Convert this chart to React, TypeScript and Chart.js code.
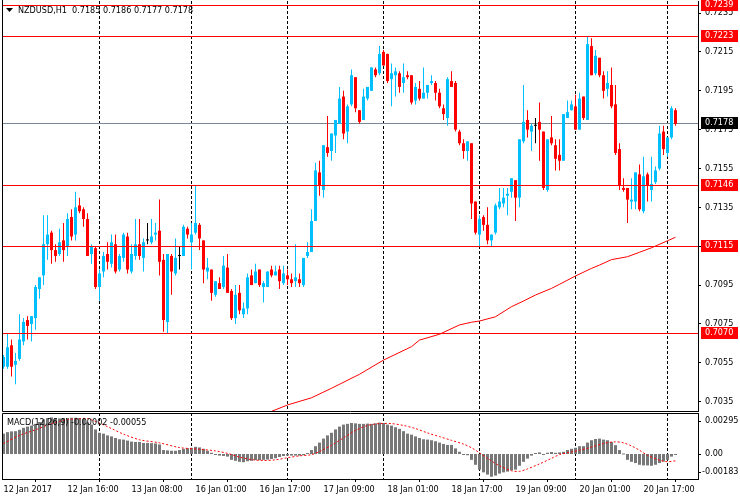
import { useEffect, useRef } from 'react';
import { Chart, registerables } from 'chart.js';

Chart.register(...registerables);

const FONT = '"DejaVu Sans Condensed", "Liberation Sans", Arial, sans-serif';
const BULL = '#00BFFF';
const BEAR = '#FF0000';
const DOJI = '#000000';

const symbolTitle = 'NZDUSD,H1  0.7185 0.7186 0.7177 0.7178';
const macdTitle = 'MACD(12,26,9) -0.00002 -0.00055';

const opens = [
  0.7053, 0.7053, 0.7064, 0.7054, 0.7057, 0.7066, 0.7077, 0.7075, 0.7078, 0.7093,
  0.7100, 0.7116, 0.7122, 0.7113, 0.7111, 0.7118, 0.7115, 0.7130, 0.7121, 0.7136,
  0.7134, 0.7129, 0.7111, 0.7114, 0.7094, 0.7102, 0.7111, 0.7106, 0.7116, 0.7103,
  0.7109, 0.7120, 0.7102, 0.7110, 0.7116, 0.7109, 0.7118, 0.7117, 0.7121, 0.7123,
  0.7108, 0.7076, 0.7110, 0.7101, 0.7110, 0.7110, 0.7124, 0.7117, 0.7122, 0.7126,
  0.7118, 0.7102, 0.7103, 0.7090, 0.7096, 0.7094, 0.7104, 0.7092, 0.7078, 0.7091,
  0.7080, 0.7083, 0.7100, 0.7096, 0.7103, 0.7094, 0.7094, 0.7103, 0.7100, 0.7103,
  0.7096, 0.7100, 0.7098, 0.7097, 0.7098, 0.7095, 0.7110, 0.7112, 0.7128, 0.7153,
  0.7144, 0.7166, 0.7164, 0.7172, 0.7178, 0.7192, 0.7174, 0.7188, 0.7202, 0.7185,
  0.7180, 0.7191, 0.7195, 0.7206, 0.7204, 0.7215, 0.7214, 0.7201, 0.7203, 0.7204,
  0.7199, 0.7203, 0.7203, 0.7190, 0.7196, 0.7191, 0.7194, 0.7199, 0.7199, 0.7194,
  0.7186, 0.7181, 0.7200, 0.7199, 0.7174, 0.7168, 0.7164, 0.7168, 0.7138, 0.7121,
  0.7130, 0.7126, 0.7118, 0.7122, 0.7135, 0.7137, 0.7141, 0.7143, 0.7149, 0.7140,
  0.7169, 0.7180, 0.7174, 0.7177, 0.7179, 0.7174, 0.7144, 0.7171, 0.7167, 0.7162,
  0.7159, 0.7181, 0.7185, 0.7187, 0.7175, 0.7192, 0.7180, 0.7218, 0.7204, 0.7212,
  0.7203, 0.7196, 0.7198, 0.7188, 0.7165, 0.7145, 0.7145, 0.7138, 0.7138, 0.7152,
  0.7133, 0.7152, 0.7144, 0.7148, 0.7155, 0.7174, 0.7163, 0.7171, 0.7185,
];

const highs = [
  0.7059, 0.7070, 0.7067, 0.7060, 0.7080, 0.7078, 0.7079, 0.7079, 0.7095, 0.7099,
  0.7131, 0.7131, 0.7123, 0.7116, 0.7124, 0.7127, 0.7132, 0.7134, 0.7143, 0.7140,
  0.7135, 0.7132, 0.7116, 0.7115, 0.7103, 0.7112, 0.7117, 0.7121, 0.7121, 0.7111,
  0.7122, 0.7122, 0.7116, 0.7129, 0.7129, 0.7119, 0.7127, 0.7129, 0.7127, 0.7139,
  0.7111, 0.7111, 0.7111, 0.7119, 0.7115, 0.7126, 0.7125, 0.7127, 0.7146, 0.7127,
  0.7118, 0.7109, 0.7103, 0.7097, 0.7099, 0.7110, 0.7111, 0.7093, 0.7095, 0.7095,
  0.7086, 0.7101, 0.7103, 0.7106, 0.7103, 0.7097, 0.7102, 0.7105, 0.7105, 0.7105,
  0.7105, 0.7103, 0.7101, 0.7116, 0.7101, 0.7109, 0.7117, 0.7134, 0.7158, 0.7159,
  0.7167, 0.7182, 0.7173, 0.7180, 0.7197, 0.7195, 0.7188, 0.7206, 0.7202, 0.7185,
  0.7196, 0.7197, 0.7207, 0.7207, 0.7218, 0.7216, 0.7214, 0.7209, 0.7207, 0.7205,
  0.7209, 0.7205, 0.7203, 0.7199, 0.7200, 0.7207, 0.7198, 0.7203, 0.7200, 0.7196,
  0.7188, 0.7202, 0.7205, 0.7200, 0.7175, 0.7170, 0.7169, 0.7168, 0.7138, 0.7131,
  0.7131, 0.7135, 0.7121, 0.7137, 0.7145, 0.7145, 0.7145, 0.7150, 0.7149, 0.7170,
  0.7198, 0.7185, 0.7178, 0.7181, 0.7189, 0.7174, 0.7170, 0.7182, 0.7170, 0.7170,
  0.7183, 0.7190, 0.7190, 0.7193, 0.7194, 0.7192, 0.7223, 0.7222, 0.7216, 0.7212,
  0.7205, 0.7205, 0.7207, 0.7198, 0.7168, 0.7150, 0.7145, 0.7150, 0.7153, 0.7157,
  0.7161, 0.7153, 0.7161, 0.7156, 0.7177, 0.7177, 0.7171, 0.7187, 0.7186,
];

const lows = [
  0.7052, 0.7052, 0.7048, 0.7044, 0.7056, 0.7064, 0.7067, 0.7066, 0.7072, 0.7088,
  0.7095, 0.7108, 0.7106, 0.7107, 0.7110, 0.7107, 0.7110, 0.7118, 0.7118, 0.7132,
  0.7125, 0.7110, 0.7106, 0.7093, 0.7087, 0.7099, 0.7103, 0.7104, 0.7101, 0.7102,
  0.7107, 0.7101, 0.7101, 0.7108, 0.7108, 0.7102, 0.7116, 0.7116, 0.7118, 0.7100,
  0.7071, 0.7070, 0.7090, 0.7100, 0.7103, 0.7110, 0.7119, 0.7103, 0.7121, 0.7113,
  0.7096, 0.7098, 0.7087, 0.7089, 0.7093, 0.7093, 0.7091, 0.7077, 0.7075, 0.7080,
  0.7078, 0.7080, 0.7095, 0.7096, 0.7094, 0.7086, 0.7094, 0.7099, 0.7100, 0.7093,
  0.7095, 0.7095, 0.7094, 0.7094, 0.7094, 0.7094, 0.7109, 0.7112, 0.7128, 0.7141,
  0.7140, 0.7161, 0.7159, 0.7163, 0.7178, 0.7170, 0.7168, 0.7187, 0.7184, 0.7178,
  0.7180, 0.7190, 0.7195, 0.7202, 0.7203, 0.7208, 0.7199, 0.7187, 0.7192, 0.7194,
  0.7194, 0.7201, 0.7188, 0.7188, 0.7190, 0.7191, 0.7191, 0.7198, 0.7190, 0.7186,
  0.7180, 0.7177, 0.7197, 0.7174, 0.7167, 0.7160, 0.7159, 0.7129, 0.7121, 0.7115,
  0.7123, 0.7116, 0.7115, 0.7121, 0.7134, 0.7135, 0.7131, 0.7140, 0.7128, 0.7135,
  0.7168, 0.7171, 0.7164, 0.7168, 0.7159, 0.7144, 0.7143, 0.7167, 0.7154, 0.7154,
  0.7159, 0.7181, 0.7185, 0.7175, 0.7175, 0.7180, 0.7180, 0.7203, 0.7203, 0.7202,
  0.7191, 0.7192, 0.7186, 0.7162, 0.7144, 0.7143, 0.7127, 0.7134, 0.7134, 0.7133,
  0.7132, 0.7138, 0.7138, 0.7147, 0.7154, 0.7162, 0.7161, 0.7170, 0.7177,
];

const closes = [
  0.7058, 0.7063, 0.7053, 0.7056, 0.7067, 0.7076, 0.7074, 0.7079, 0.7094, 0.7099,
  0.7116, 0.7121, 0.7113, 0.7110, 0.7117, 0.7113, 0.7129, 0.7120, 0.7135, 0.7133,
  0.7129, 0.7110, 0.7115, 0.7094, 0.7101, 0.7110, 0.7107, 0.7117, 0.7102, 0.7110,
  0.7121, 0.7103, 0.7111, 0.7116, 0.7110, 0.7117, 0.7118, 0.7120, 0.7122, 0.7107,
  0.7077, 0.7111, 0.7102, 0.7109, 0.7110, 0.7125, 0.7121, 0.7121, 0.7127, 0.7119,
  0.7103, 0.7104, 0.7091, 0.7097, 0.7093, 0.7105, 0.7091, 0.7078, 0.7090, 0.7082,
  0.7083, 0.7099, 0.7095, 0.7102, 0.7095, 0.7096, 0.7102, 0.7100, 0.7102, 0.7097,
  0.7101, 0.7098, 0.7096, 0.7099, 0.7096, 0.7109, 0.7112, 0.7128, 0.7154, 0.7146,
  0.7167, 0.7163, 0.7173, 0.7180, 0.7191, 0.7173, 0.7187, 0.7203, 0.7186, 0.7179,
  0.7192, 0.7197, 0.7207, 0.7203, 0.7214, 0.7208, 0.7200, 0.7204, 0.7205, 0.7197,
  0.7202, 0.7202, 0.7189, 0.7197, 0.7191, 0.7194, 0.7198, 0.7200, 0.7194, 0.7187,
  0.7183, 0.7201, 0.7197, 0.7175, 0.7168, 0.7164, 0.7169, 0.7137, 0.7122, 0.7129,
  0.7126, 0.7118, 0.7121, 0.7136, 0.7138, 0.7140, 0.7142, 0.7150, 0.7140, 0.7170,
  0.7179, 0.7175, 0.7177, 0.7177, 0.7175, 0.7145, 0.7170, 0.7168, 0.7160, 0.7159,
  0.7183, 0.7184, 0.7188, 0.7175, 0.7191, 0.7181, 0.7219, 0.7203, 0.7213, 0.7203,
  0.7195, 0.7199, 0.7187, 0.7163, 0.7146, 0.7144, 0.7139, 0.7139, 0.7153, 0.7134,
  0.7151, 0.7146, 0.7147, 0.7154, 0.7173, 0.7165, 0.7171, 0.7186, 0.7178,
];

const maBars = [67, 71, 77, 82, 89, 95, 102, 104, 109, 114, 117, 119, 123, 127, 130, 133, 137, 139, 143, 147, 149, 152, 156, 159, 162, 166, 168];
const maValues = [
  0.70300, 0.70333, 0.70370, 0.70419, 0.70491, 0.70564, 0.70633, 0.70667, 0.70697, 0.70745,
  0.70759, 0.70765, 0.70787, 0.70839, 0.70868, 0.70899, 0.70933, 0.70954, 0.70997, 0.71036,
  0.71053, 0.71081, 0.71096, 0.71119, 0.71142, 0.71178, 0.71196,
];

const macdMain = [
  0.00164, 0.00176, 0.00182, 0.00184, 0.00195, 0.00211, 0.00221, 0.00229, 0.00243, 0.00258,
  0.00279, 0.00290, 0.00295, 0.00290, 0.00287, 0.00290, 0.00290, 0.00292, 0.00292, 0.00290,
  0.00282, 0.00255, 0.00237, 0.00198, 0.00171, 0.00164, 0.00150, 0.00142, 0.00129, 0.00119,
  0.00116, 0.00108, 0.00100, 0.00097, 0.00097, 0.00089, 0.00089, 0.00087, 0.00085, 0.00077,
  0.00032, 0.00029, 0.00026, 0.00026, 0.00032, 0.00042, 0.00047, 0.00050, 0.00058, 0.00053,
  0.00042, 0.00026, 0.00010, -0.00002, -0.00013, -0.00016, -0.00021, -0.00047, -0.00055, -0.00063,
  -0.00066, -0.00058, -0.00055, -0.00050, -0.00050, -0.00047, -0.00045, -0.00040, -0.00034, -0.00024,
  -0.00016, -0.00013, -0.00013, -0.00013, -0.00013, -0.00010, 0.00002, 0.00032, 0.00063, 0.00092,
  0.00124, 0.00150, 0.00171, 0.00198, 0.00221, 0.00237, 0.00243, 0.00250, 0.00247, 0.00243,
  0.00243, 0.00245, 0.00243, 0.00247, 0.00253, 0.00250, 0.00237, 0.00229, 0.00216, 0.00203,
  0.00184, 0.00164, 0.00156, 0.00142, 0.00129, 0.00119, 0.00116, 0.00111, 0.00103, 0.00092,
  0.00081, 0.00073, 0.00073, 0.00045, 0.00018, -0.00002, -0.00010, -0.00047, -0.00087, -0.00126,
  -0.00148, -0.00166, -0.00183, -0.00174, -0.00158, -0.00148, -0.00142, -0.00132, -0.00126, -0.00095,
  -0.00063, -0.00037, -0.00013, 0.00006, 0.00013, -0.00002, 0.00010, 0.00016, 0.00010, 0.00013,
  0.00018, 0.00032, 0.00042, 0.00050, 0.00063, 0.00063, 0.00092, 0.00111, 0.00121, 0.00124,
  0.00116, 0.00111, 0.00097, 0.00071, 0.00032, 0.00000, -0.00047, -0.00063, -0.00073, -0.00087,
  -0.00092, -0.00092, -0.00095, -0.00087, -0.00073, -0.00061, -0.00047, -0.00021, -0.00002,
];

const signalBars = [0, 4, 8, 12, 16, 19, 21, 24, 27, 30, 34, 39, 44, 49, 53, 56, 59, 62, 65, 68, 71, 74, 77, 79, 82, 85, 88, 91, 94, 97, 100, 103, 106, 109, 112, 115, 117, 119, 121, 124, 127, 129, 131, 134, 137, 139, 141, 144, 147, 150, 153, 155, 157, 159, 161, 164, 166, 168];
const signalValues = [
  0.00085, 0.00150, 0.00195, 0.00245, 0.00278, 0.00285, 0.00285, 0.00250, 0.00205, 0.00160,
  0.00115, 0.00090, 0.00052, 0.00038, 0.00025, 0.00005, -0.00025, -0.00045, -0.00052, -0.00047,
  -0.00030, -0.00015, -0.00005, 0.00020, 0.00070, 0.00130, 0.00190, 0.00230, 0.00245, 0.00245,
  0.00230, 0.00205, 0.00170, 0.00140, 0.00110, 0.00080, 0.00050, 0.00010, -0.00035, -0.00095,
  -0.00135, -0.00140, -0.00120, -0.00080, -0.00035, -0.00005, 0.00010, 0.00030, 0.00055, 0.00085,
  0.00098, 0.00090, 0.00065, 0.00030, -0.00010, -0.00050, -0.00062, -0.00055,
];

const priceTicks = [0.7035, 0.7055, 0.7075, 0.7095, 0.7115, 0.7135, 0.7155, 0.7175, 0.7195, 0.7215, 0.7235];
const levelPrices = [0.7239, 0.7223, 0.7146, 0.7115, 0.7070];
const bidPrice = 0.7178;
const separatorBars = [24, 47, 71, 95, 119, 143, 166];
const timeTickBars = [0, 16, 32, 48, 64, 80, 96, 112, 128, 144, 160];
const timeTickLabels = [
  '12 Jan 2017', '12 Jan 16:00', '13 Jan 08:00', '16 Jan 01:00', '16 Jan 17:00', '17 Jan 09:00',
  '18 Jan 01:00', '18 Jan 17:00', '19 Jan 09:00', '20 Jan 01:00', '20 Jan 17:00',
];
const macdTickValues = [0.00295, 0, -0.00183];
const macdTickLabels = ['0.00295', '0.00', '-0.00183'];

const X_MIN = -0.375;
const X_MAX = 173.625;
const PRICE_MAX = 0.724121;
const PRICE_MIN = 0.70302;
const MACD_MAX = 0.003305;
const MACD_MIN = -0.002015;
const AXIS_W = 42;

const candleColor = (i: number) =>
  closes[i] > opens[i] ? BULL : closes[i] < opens[i] ? BEAR : DOJI;

function drawSeparators(chart: any) {
  const { ctx, chartArea: a, scales } = chart;
  ctx.save();
  ctx.strokeStyle = '#000';
  ctx.lineWidth = 1;
  ctx.setLineDash([3, 2]);
  separatorBars.forEach((b) => {
    const px = Math.floor(scales.x.getPixelForValue(b)) + 0.5;
    ctx.beginPath();
    ctx.moveTo(px, a.top);
    ctx.lineTo(px, a.bottom);
    ctx.stroke();
  });
  ctx.restore();
}

const mainDecor = {
  id: 'mainDecor',
  beforeDatasetsDraw(chart: any) {
    drawSeparators(chart);
    const { ctx, chartArea: a, scales } = chart;
    const by = Math.floor(scales.y.getPixelForValue(bidPrice)) + 0.5;
    ctx.save();
    ctx.strokeStyle = '#778899';
    ctx.lineWidth = 1;
    ctx.beginPath();
    ctx.moveTo(a.left, by);
    ctx.lineTo(a.right, by);
    ctx.stroke();
    ctx.restore();
  },
  afterDatasetsDraw(chart: any) {
    const { ctx, chartArea: a, scales } = chart;
    ctx.save();
    ctx.strokeStyle = '#FF0000';
    ctx.lineWidth = 1;
    levelPrices.forEach((v) => {
      const yy = Math.floor(scales.y.getPixelForValue(v)) + 0.5;
      ctx.beginPath();
      ctx.moveTo(a.left, yy);
      ctx.lineTo(a.right, yy);
      ctx.stroke();
    });
    ctx.restore();
  },
  afterDraw(chart: any) {
    const { ctx, chartArea: a, scales } = chart;
    ctx.save();
    ctx.strokeStyle = '#000';
    ctx.lineWidth = 1;
    ctx.beginPath();
    ctx.moveTo(a.left + 0.5, 0);
    ctx.lineTo(a.left + 0.5, a.bottom + 0.5);
    ctx.lineTo(a.right, a.bottom + 0.5);
    ctx.stroke();

    ctx.font = `9px ${FONT}`;
    ctx.textBaseline = 'middle';
    ctx.textAlign = 'left';
    const box = (v: number, fill: string) => {
      const yy = Math.floor(scales.y.getPixelForValue(v));
      ctx.fillStyle = fill;
      ctx.fillRect(a.right + 3, yy - 6, 37, 12);
      ctx.fillStyle = '#fff';
      ctx.fillText(v.toFixed(4), a.right + 7, yy);
    };
    levelPrices.forEach((v) => box(v, '#FF0000'));
    box(bidPrice, '#000000');

    ctx.fillStyle = '#000';
    ctx.beginPath();
    ctx.moveTo(6, 8);
    ctx.lineTo(13, 8);
    ctx.lineTo(9.5, 12);
    ctx.closePath();
    ctx.fill();
    ctx.fillText(symbolTitle, 18, 10.5);
    ctx.restore();
  },
};

const macdDecor = {
  id: 'macdDecor',
  beforeDatasetsDraw(chart: any) {
    drawSeparators(chart);
  },
  afterDraw(chart: any) {
    const { ctx, chartArea: a, scales } = chart;
    ctx.save();
    ctx.strokeStyle = '#000';
    ctx.lineWidth = 1;
    ctx.beginPath();
    ctx.moveTo(a.left + 0.5, a.bottom);
    ctx.lineTo(a.left + 0.5, a.top + 0.5);
    ctx.lineTo(a.right, a.top + 0.5);
    ctx.stroke();

    ctx.font = `9px ${FONT}`;
    ctx.textBaseline = 'middle';
    ctx.textAlign = 'left';
    ctx.fillStyle = '#000';
    macdTickValues.forEach((v, k) => {
      const raw = Math.round(scales.y.getPixelForValue(v));
      const yy = Math.min(Math.max(raw, a.top + 8), a.bottom - 7);
      ctx.beginPath();
      ctx.moveTo(a.right, yy + 0.5);
      ctx.lineTo(a.right + 3, yy + 0.5);
      ctx.stroke();
      const label = macdTickLabels[k];
      const shift = label.startsWith('-') ? ctx.measureText('-').width : 0;
      ctx.fillText(label, a.right + 7 - shift, yy);
    });
    ctx.fillText(macdTitle, 7, 10.5);
    ctx.restore();
  },
};

const fitY = (s: any) => {
  s.width = AXIS_W;
  s.paddingTop = 0;
  s.paddingBottom = 0;
};

export default function App() {
  const mainRef = useRef<HTMLCanvasElement>(null);
  const macdRef = useRef<HTMLCanvasElement>(null);

  useEffect(() => {
    const idx = opens.map((_, i) => i);
    const colors = idx.map(candleColor);
    const main = new Chart(mainRef.current as HTMLCanvasElement, {
      type: 'bar',
      data: {
        datasets: [
          {
            type: 'line',
            data: maBars.map((b, k) => ({ x: b, y: maValues[k] })),
            borderColor: '#FF0000',
            borderWidth: 1,
            pointRadius: 0,
            tension: 0,
            order: 0,
          } as any,
          {
            type: 'bar',
            data: idx.map((i) => ({ x: i, y: [opens[i], closes[i]] })),
            backgroundColor: colors,
            barThickness: 3,
            maxBarThickness: 3,
            minBarLength: 1,
            grouped: false,
            inflateAmount: 0,
            borderWidth: 0,
            order: 1,
          } as any,
          {
            type: 'bar',
            data: idx.map((i) => ({ x: i, y: [lows[i], highs[i]] })),
            backgroundColor: colors,
            barThickness: 1,
            maxBarThickness: 1,
            grouped: false,
            inflateAmount: 0,
            borderWidth: 0,
            order: 2,
          } as any,
        ],
      },
      options: {
        responsive: false,
        animation: false,
        devicePixelRatio: 1,
        events: [],
        layout: { padding: { left: 2, top: 1, bottom: 1, right: 0 } },
        plugins: { legend: { display: false }, tooltip: { enabled: false } },
        scales: {
          x: { type: 'linear', min: X_MIN, max: X_MAX, display: false, offset: false },
          y: {
            type: 'linear',
            position: 'right',
            min: PRICE_MIN,
            max: PRICE_MAX,
            afterFit: fitY,
            afterBuildTicks: (s: any) => { s.ticks = priceTicks.map((v) => ({ value: v })); },
            ticks: {
              callback: (v: any) => Number(v).toFixed(4),
              color: '#000',
              font: { family: FONT, size: 9 },
              padding: 4,
            },
            grid: { drawOnChartArea: false, drawTicks: true, tickLength: 3, color: '#000' },
            border: { display: true, color: '#000', width: 1 },
          },
        },
      } as any,
      plugins: [mainDecor],
    });

    const macd = new Chart(macdRef.current as HTMLCanvasElement, {
      type: 'bar',
      data: {
        datasets: [
          {
            type: 'line',
            data: signalBars.map((b, k) => ({ x: b, y: signalValues[k] })),
            borderColor: '#FF0000',
            borderWidth: 1,
            borderDash: [2, 2],
            pointRadius: 0,
            tension: 0.3,
            order: 0,
          } as any,
          {
            type: 'bar',
            data: idx.map((i) => ({ x: i, y: macdMain[i] })),
            backgroundColor: '#787878',
            barThickness: 3,
            maxBarThickness: 3,
            minBarLength: 1,
            grouped: false,
            inflateAmount: 0,
            borderWidth: 0,
            order: 1,
          } as any,
        ],
      },
      options: {
        responsive: false,
        animation: false,
        devicePixelRatio: 1,
        events: [],
        layout: { padding: { left: 2, top: 1, bottom: 0, right: 0 } },
        plugins: { legend: { display: false }, tooltip: { enabled: false } },
        scales: {
          x: {
            type: 'linear',
            position: 'bottom',
            min: X_MIN,
            max: X_MAX,
            offset: false,
            afterFit: (s: any) => { s.height = 21; s.paddingLeft = 0; s.paddingRight = 0; },
            afterBuildTicks: (s: any) => { s.ticks = timeTickBars.map((v) => ({ value: v })); },
            ticks: {
              callback: (v: any) => timeTickLabels[timeTickBars.indexOf(Number(v))] ?? '',
              align: 'start',
              maxRotation: 0,
              autoSkip: false,
              color: '#000',
              font: { family: FONT, size: 9 },
              padding: 2,
            },
            grid: { drawOnChartArea: false, drawTicks: true, tickLength: 3, color: '#000' },
            border: { display: true, color: '#000', width: 1 },
          },
          y: {
            type: 'linear',
            position: 'right',
            min: MACD_MIN,
            max: MACD_MAX,
            afterFit: fitY,
            ticks: { display: false },
            grid: { display: false },
            border: { display: true, color: '#000', width: 1 },
          },
        },
      } as any,
      plugins: [macdDecor],
    });

    return () => {
      main.destroy();
      macd.destroy();
    };
  }, []);

  return (
    <div style={{ position: 'fixed', left: 0, top: 0, width: 740, height: 500, background: '#fff' }}>
      <canvas ref={mainRef} width={740} height={412} style={{ display: 'block', width: 740, height: 412 }} />
      <canvas ref={macdRef} width={740} height={88} style={{ display: 'block', width: 740, height: 88 }} />
    </div>
  );
}
